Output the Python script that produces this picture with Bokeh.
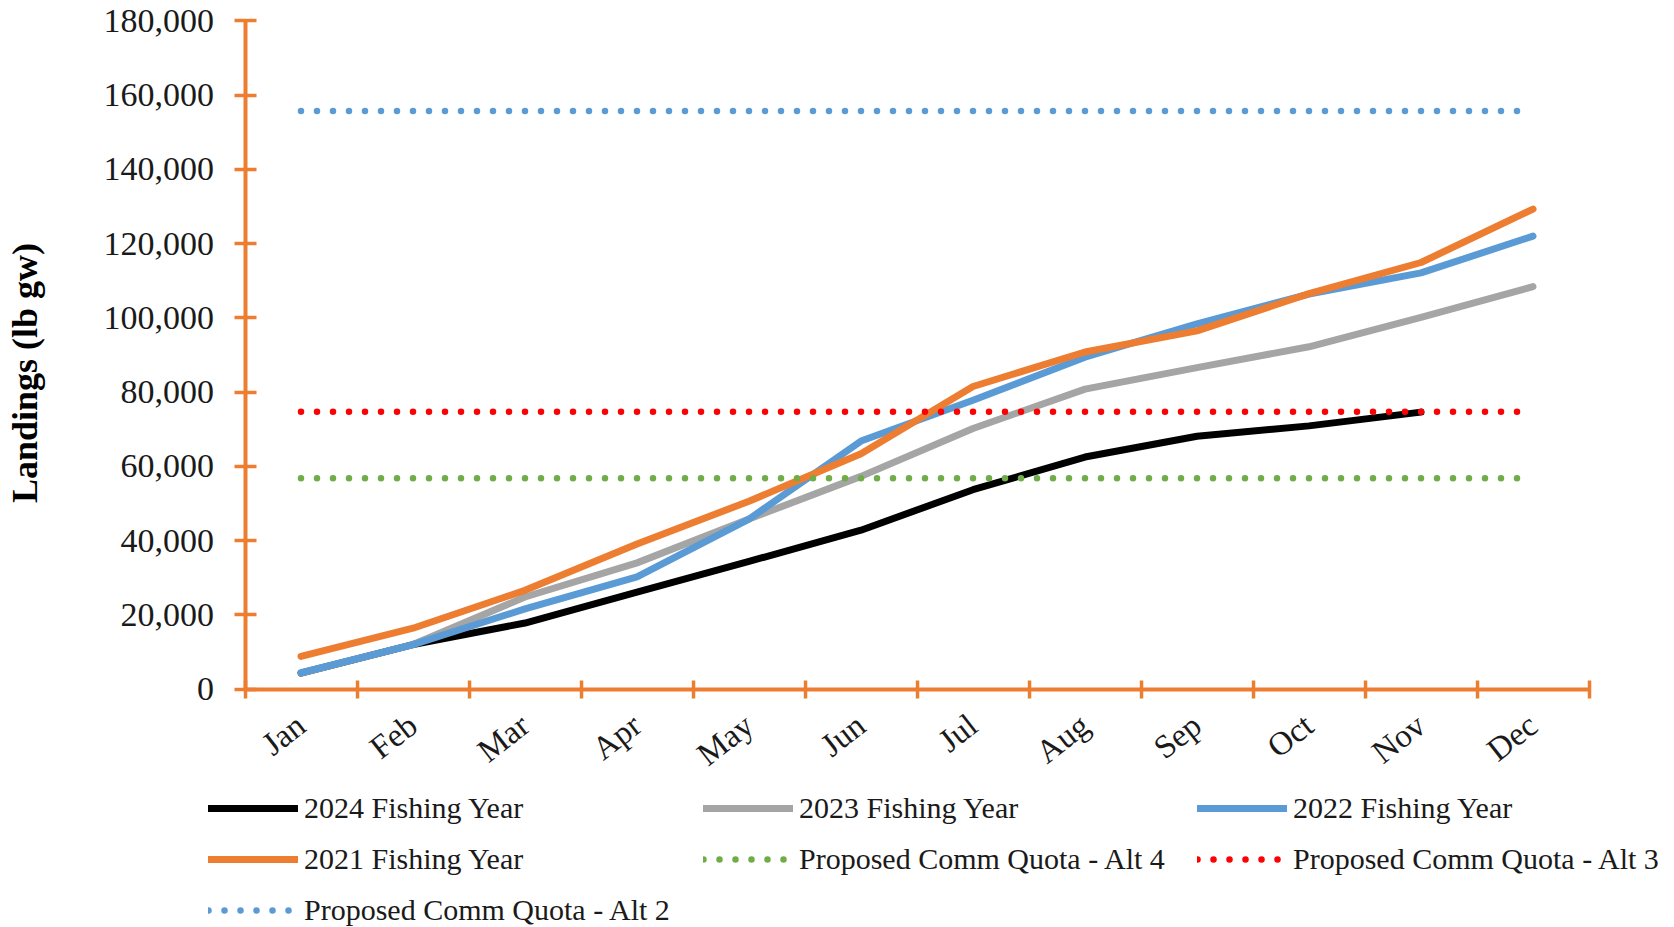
import math
from bokeh.plotting import figure
from bokeh.models import Range1d, FixedTicker, NumeralTickFormatter, Legend
from bokeh.embed import file_html
from bokeh.resources import INLINE

# ---- data ----
months = ["Jan", "Feb", "Mar", "Apr", "May", "Jun",
          "Jul", "Aug", "Sep", "Oct", "Nov", "Dec"]
landings_2024 = [4300, 12000, 17800, 26100, 34400, 42800, 53700, 62500, 68100, 70900, 74600]
landings_2023 = [4300, 12000, 24800, 34000, 45800, 57300, 70200, 80800, 86600, 92200, 100100, 108400]
landings_2022 = [4400, 12000, 21600, 30200, 45800, 66800, 77800, 89400, 98400, 106400, 112100, 122000]
landings_2021 = [8800, 16400, 26600, 39100, 50600, 63400, 81500, 90800, 96500, 106500, 114900, 129300]
quota_alt4 = [56800] * 12
quota_alt3 = [74700] * 12
quota_alt2 = [155700] * 12
y_ticks = [0, 20000, 40000, 60000, 80000, 100000, 120000, 140000, 160000, 180000]

x_pos = [i + 0.5 for i in range(len(months))]

AXIS = "#ED7D31"
FONT = "Liberation Serif"

# ---- layout geometry (pixels) ----
W, H = 1674, 927
AX_LEFT_PX = 244.5      # x position of y axis
CAT_PX = 112.0          # width of one month
Y0_PX = 688.6           # pixel row of y = 0
YTOP_PX = 20.3          # pixel row of y = 180,000
ypp = 180000 / (Y0_PX - YTOP_PX)

p = figure(width=W, height=H, output_backend="svg", toolbar_location=None,
           x_range=Range1d(-AX_LEFT_PX / CAT_PX, (W - AX_LEFT_PX) / CAT_PX),
           y_range=Range1d(-(H - Y0_PX) * ypp, Y0_PX * ypp),
           min_border=0, min_border_left=0, min_border_right=0,
           min_border_top=0, min_border_bottom=0)
p.outline_line_color = None
p.xgrid.visible = False
p.ygrid.visible = False
p.background_fill_color = "white"
p.border_fill_color = "white"

# series
solid = dict(line_width=7, line_join="round", line_cap="round")
dotted = dict(line_width=6.5, line_dash="0 16", line_cap="round")
r24 = p.line(x_pos[:len(landings_2024)], landings_2024, line_color="#000000", **solid)
r23 = p.line(x_pos, landings_2023, line_color="#A5A5A5", **solid)
r22 = p.line(x_pos, landings_2022, line_color="#5B9BD5", **solid)
r21 = p.line(x_pos, landings_2021, line_color="#ED7D31", **solid)
ra4 = p.line(x_pos, quota_alt4, line_color="#70AD47", **dotted)
ra3 = p.line(x_pos, quota_alt3, line_color="#FF0000", **dotted)
ra2 = p.line(x_pos, quota_alt2, line_color="#5B9BD5", **dotted)

# x axis
xa = p.xaxis[0]
xa.fixed_location = 0
xa.bounds = (0, 12)
xa.ticker = FixedTicker(ticks=x_pos, minor_ticks=list(range(13)))
xa.major_label_overrides = {x: m for x, m in zip(x_pos, months)}
xa.major_tick_in = 0
xa.major_tick_out = 0
xa.major_tick_line_color = None
xa.minor_tick_in = 9
xa.minor_tick_out = 9
xa.minor_tick_line_color = AXIS
xa.minor_tick_line_width = 3.5
xa.axis_line_color = AXIS
xa.axis_line_width = 4
xa.major_label_orientation = math.radians(38)
xa.major_label_standoff = 23
xa.major_label_text_font = FONT
xa.major_label_text_font_size = "33px"
xa.major_label_text_color = "#1a1a1a"

# y axis
ya = p.yaxis[0]
ya.fixed_location = 0
ya.bounds = (0, 180000)
ya.ticker = FixedTicker(ticks=y_ticks, minor_ticks=[])
ya.formatter = NumeralTickFormatter(format="0,0")
ya.major_tick_in = 11
ya.major_tick_out = 11
ya.major_tick_line_color = AXIS
ya.major_tick_line_width = 3.5
ya.minor_tick_line_color = None
ya.axis_line_color = AXIS
ya.axis_line_width = 4
ya.major_label_standoff = 20
ya.major_label_text_font = FONT
ya.major_label_text_font_size = "34px"
ya.major_label_text_color = "#1a1a1a"
ya.axis_label = "Landings (lb gw)" + "\u00a0" * 4
ya.axis_label_text_font = FONT
ya.axis_label_text_font_style = "bold"
ya.axis_label_text_font_size = "36px"
ya.axis_label_text_color = "#000000"
ya.axis_label_standoff = 56


def make_legend(items, loc):
    lg = Legend(items=items, location=loc, orientation="vertical",
                glyph_width=90, glyph_height=34, label_height=34,
                label_standoff=6, spacing=17, padding=0, margin=0,
                border_line_color=None, background_fill_alpha=0,
                label_text_font=FONT, label_text_font_size="30px",
                label_text_color="#1a1a1a")
    p.add_layout(lg)
    return lg


make_legend([("2024 Fishing Year", [r24]), ("2021 Fishing Year", [r21]),
             ("Proposed Comm Quota - Alt 2", [ra2])], (208, 0))
make_legend([("2023 Fishing Year", [r23]), ("Proposed Comm Quota - Alt 4", [ra4])], (703, 51))
make_legend([("2022 Fishing Year", [r22]), ("Proposed Comm Quota - Alt 3", [ra3])], (1197, 51))

open("out.html", "w").write(file_html(p, INLINE))
